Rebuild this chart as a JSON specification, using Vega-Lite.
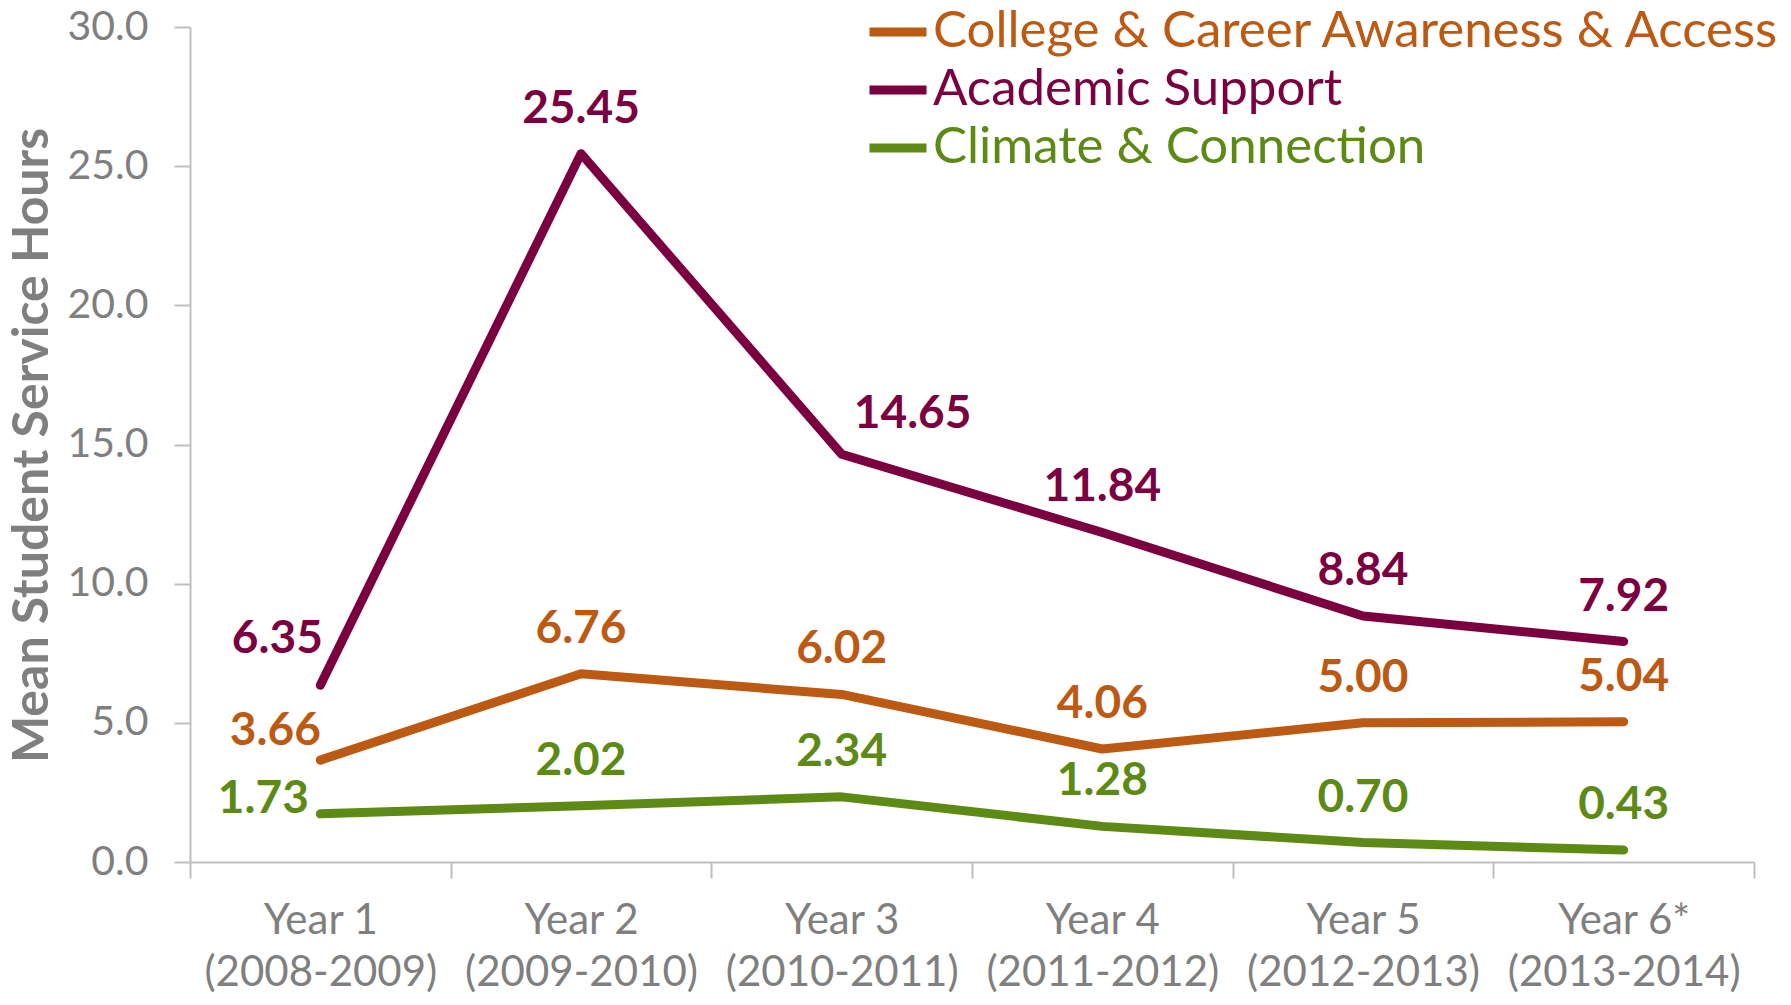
{
  "$schema": "https://vega.github.io/schema/vega-lite/v6.json",
  "width": 1564,
  "height": 835,
  "autosize": "none",
  "padding": {"left": 190, "top": 27, "right": 37, "bottom": 143},
  "background": "white",
  "config": {
    "view": {"stroke": null},
    "font": "Lato"
  },
  "data": {
    "values": [
      {"year": "Year 1 (2008-2009)", "series": "College & Career Awareness & Access", "value": 3.66},
      {"year": "Year 2 (2009-2010)", "series": "College & Career Awareness & Access", "value": 6.76},
      {"year": "Year 3 (2010-2011)", "series": "College & Career Awareness & Access", "value": 6.02},
      {"year": "Year 4 (2011-2012)", "series": "College & Career Awareness & Access", "value": 4.06},
      {"year": "Year 5 (2012-2013)", "series": "College & Career Awareness & Access", "value": 5.00},
      {"year": "Year 6* (2013-2014)", "series": "College & Career Awareness & Access", "value": 5.04},
      {"year": "Year 1 (2008-2009)", "series": "Academic Support", "value": 6.35},
      {"year": "Year 2 (2009-2010)", "series": "Academic Support", "value": 25.45},
      {"year": "Year 3 (2010-2011)", "series": "Academic Support", "value": 14.65},
      {"year": "Year 4 (2011-2012)", "series": "Academic Support", "value": 11.84},
      {"year": "Year 5 (2012-2013)", "series": "Academic Support", "value": 8.84},
      {"year": "Year 6* (2013-2014)", "series": "Academic Support", "value": 7.92},
      {"year": "Year 1 (2008-2009)", "series": "Climate & Connection", "value": 1.73},
      {"year": "Year 2 (2009-2010)", "series": "Climate & Connection", "value": 2.02},
      {"year": "Year 3 (2010-2011)", "series": "Climate & Connection", "value": 2.34},
      {"year": "Year 4 (2011-2012)", "series": "Climate & Connection", "value": 1.28},
      {"year": "Year 5 (2012-2013)", "series": "Climate & Connection", "value": 0.70},
      {"year": "Year 6* (2013-2014)", "series": "Climate & Connection", "value": 0.43}
    ]
  },
  "encoding": {
    "x": {
      "field": "year",
      "type": "nominal",
      "sort": null,
      "scale": {"type": "band", "paddingInner": 0, "paddingOuter": 0},
      "axis": {
        "title": null,
        "labelAngle": 0,
        "tickBand": "extent",
        "domainColor": "#BFBFBF",
        "domainWidth": 2,
        "tickColor": "#BFBFBF",
        "tickWidth": 2,
        "tickSize": 16,
        "labelFont": "Lato",
        "labelFontSize": 42,
        "labelColor": "#7F7F7F",
        "labelPadding": 22,
        "labelLineHeight": 52,
        "labelBaseline": "top",
        "labelLimit": 0,
        "labelOverlap": false,
        "labelExpr": "indexof(datum.label + '', ' (') < 0 ? '' : [split(datum.label, ' (')[0], '(' + split(datum.label, ' (')[1]]"
      }
    },
    "y": {
      "field": "value",
      "type": "quantitative",
      "scale": {"domain": [0, 30], "nice": false, "zero": true},
      "axis": {
        "title": "Mean Student Service Hours",
        "titleFont": "Lato",
        "titleFontSize": 50,
        "titleFontWeight": "bold",
        "titleColor": "#7F7F7F",
        "titleX": -158,
        "titleY": 418,
        "titleAlign": "center",
        "titleBaseline": "middle",
        "titleAngle": 270,
        "values": [0, 5, 10, 15, 20, 25, 30],
        "format": ".1f",
        "grid": false,
        "domainColor": "#BFBFBF",
        "domainWidth": 2,
        "tickColor": "#BFBFBF",
        "tickWidth": 2,
        "tickSize": 16,
        "labelFont": "Lato",
        "labelFontSize": 41,
        "labelColor": "#7F7F7F",
        "labelPadding": 26
      }
    },
    "color": {
      "field": "series",
      "type": "nominal",
      "scale": {
        "domain": ["College & Career Awareness & Access", "Academic Support", "Climate & Connection"],
        "range": ["#BC5A14", "#7B0040", "#5C8A15"]
      },
      "legend": null
    }
  },
  "layer": [
    {
      "mark": {"type": "line", "strokeWidth": 9, "strokeCap": "round", "strokeJoin": "round"},
      "encoding": {
        "color": {
          "field": "series",
          "type": "nominal",
          "scale": {
            "domain": ["College & Career Awareness & Access", "Academic Support", "Climate & Connection"],
            "range": ["#BC5A14", "#7B0040", "#5C8A15"]
          },
          "legend": {
            "title": null,
            "orient": "none",
            "legendX": 675,
            "legendY": -28,
            "padding": 0,
            "symbolType": "stroke",
            "symbolSize": 3249,
            "symbolStrokeWidth": 9,
            "labelFont": "Lato",
            "labelFontSize": 51,
            "labelLimit": 2000,
            "labelOffset": 2,
            "rowPadding": -4,
            "encode": {
              "labels": {"update": {"fill": {"scale": "color", "field": "value"}}}
            }
          }
        }
      }
    },
    {
      "transform": [{"filter": "datum.year != 'Year 1 (2008-2009)' && !(datum.series == 'Academic Support' && datum.year == 'Year 3 (2010-2011)')"}],
      "mark": {"type": "text", "fontWeight": "bold", "fontSize": 46, "font": "Lato", "dy": -45, "baseline": "middle", "align": "center"},
      "encoding": {"text": {"field": "value", "type": "quantitative", "format": ".2f"}}
    },
    {
      "transform": [{"filter": "datum.series == 'Academic Support' && datum.year == 'Year 3 (2010-2011)'"}],
      "mark": {"type": "text", "fontWeight": "bold", "fontSize": 46, "font": "Lato", "dx": 71, "dy": -40, "baseline": "middle", "align": "center"},
      "encoding": {"text": {"field": "value", "type": "quantitative", "format": ".2f"}}
    },
    {
      "transform": [{"filter": "datum.series == 'Academic Support' && datum.year == 'Year 1 (2008-2009)'"}],
      "mark": {"type": "text", "fontWeight": "bold", "fontSize": 46, "font": "Lato", "dx": -43, "dy": -46, "baseline": "middle", "align": "center"},
      "encoding": {"text": {"field": "value", "type": "quantitative", "format": ".2f"}}
    },
    {
      "transform": [{"filter": "datum.series == 'College & Career Awareness & Access' && datum.year == 'Year 1 (2008-2009)'"}],
      "mark": {"type": "text", "fontWeight": "bold", "fontSize": 46, "font": "Lato", "dx": -45, "dy": -29, "baseline": "middle", "align": "center"},
      "encoding": {"text": {"field": "value", "type": "quantitative", "format": ".2f"}}
    },
    {
      "transform": [{"filter": "datum.series == 'Climate & Connection' && datum.year == 'Year 1 (2008-2009)'"}],
      "mark": {"type": "text", "fontWeight": "bold", "fontSize": 46, "font": "Lato", "dx": -57, "dy": -15, "baseline": "middle", "align": "center"},
      "encoding": {"text": {"field": "value", "type": "quantitative", "format": ".2f"}}
    }
  ]
}
